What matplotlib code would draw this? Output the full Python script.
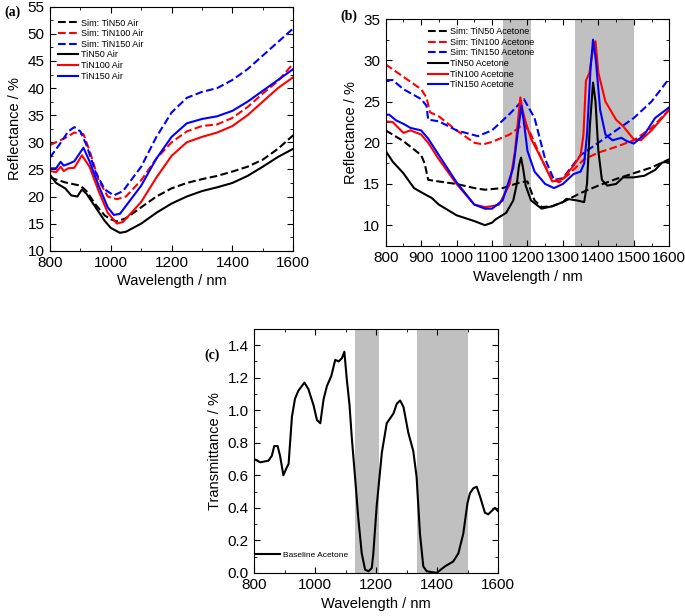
import numpy as np
import matplotlib
matplotlib.use("Agg")
import matplotlib.pyplot as plt
from matplotlib.ticker import MultipleLocator

plt.rcParams['font.family'] = ['Liberation Sans', 'DejaVu Sans']

# ---------------- (a) Air ----------------
a_sim50_x = [800, 850, 900, 920, 950, 980, 1000, 1020, 1050, 1100, 1150, 1200, 1250, 1300, 1350, 1400, 1450, 1500, 1550, 1600]
a_sim50_y = [23.5, 22.6, 22.0, 21.0, 18.5, 16.5, 15.8, 15.4, 16.0, 18.0, 20.0, 21.5, 22.5, 23.2, 23.8, 24.6, 25.5, 26.8, 28.8, 31.3]

a_tin50_x = [800, 820, 850, 870, 890, 905, 920, 950, 980, 1000, 1030, 1050, 1100, 1150, 1200, 1250, 1300, 1350, 1400, 1450, 1500, 1550, 1600]
a_tin50_y = [24.0, 22.5, 21.5, 20.2, 20.0, 21.3, 20.5, 18.0, 15.5, 14.2, 13.3, 13.5, 15.0, 17.0, 18.7, 20.0, 21.0, 21.7, 22.5, 23.8, 25.5, 27.3, 28.8]

a_sim100_x = [800, 850, 880, 910, 930, 960, 990, 1020, 1050, 1100, 1150, 1200, 1250, 1300, 1350, 1400, 1450, 1500, 1550, 1600]
a_sim100_y = [29.5, 30.8, 31.8, 31.5, 28.5, 23.0, 20.0, 19.5, 20.0, 23.0, 27.0, 30.0, 32.0, 33.0, 33.3, 34.5, 36.5, 39.0, 41.3, 44.5]

a_sim150_x = [800, 830, 860, 880, 900, 920, 950, 980, 1010, 1040, 1100, 1150, 1200, 1250, 1300, 1350, 1400, 1450, 1500, 1550, 1600]
a_sim150_y = [27.2, 29.5, 32.0, 32.8, 32.0, 29.5, 24.5, 21.3, 20.2, 21.0, 25.5, 31.0, 35.5, 38.2, 39.3, 40.0, 41.5, 43.5, 46.0, 48.5, 51.0]

a_tin100_x = [800, 820, 835, 845, 860, 880, 905, 930, 960, 990, 1020, 1040, 1100, 1150, 1200, 1250, 1300, 1350, 1400, 1450, 1500, 1550, 1600]
a_tin100_y = [24.7, 24.5, 25.5, 24.7, 25.2, 25.3, 27.6, 25.5, 21.0, 17.0, 15.0, 15.3, 19.0, 23.5, 27.5, 30.0, 31.0, 31.8, 33.0, 35.0, 37.5, 40.0, 42.0]

a_tin150_x = [800, 820, 835, 845, 860, 880, 910, 930, 960, 990, 1010, 1030, 1100, 1150, 1200, 1250, 1300, 1350, 1400, 1450, 1500, 1550, 1600]
a_tin150_y = [25.2, 25.2, 26.4, 25.7, 26.0, 26.5, 29.0, 26.5, 22.0, 18.0, 16.6, 16.8, 22.0, 27.0, 31.0, 33.5, 34.3, 34.8, 35.8, 37.5, 39.5, 41.5, 43.5]

# ---------------- (b) Acetone ----------------
b_sim50_x = [800, 850, 900, 910, 920, 950, 1000, 1050, 1080, 1130, 1180, 1200, 1220, 1240, 1270, 1300, 1350, 1400, 1450, 1500, 1550, 1600]
b_sim50_y = [21.5, 20.2, 18.5, 17.5, 15.5, 15.3, 15.0, 14.5, 14.3, 14.5, 15.2, 15.3, 13.0, 12.2, 12.3, 12.8, 13.9, 14.8, 15.6, 16.3, 17.0, 18.0]

b_tin50_x = [800, 820, 850, 880, 900, 930, 950, 1000, 1050, 1080, 1100, 1110, 1140, 1160, 1170, 1176, 1182, 1188, 1195, 1210, 1240, 1270, 1300, 1310,
             1340, 1360, 1368, 1376, 1385, 1392, 1400, 1410, 1425, 1450, 1470, 1500, 1530, 1560, 1580, 1600]
b_tin50_y = [19.0, 17.7, 16.3, 14.5, 14.0, 13.3, 12.5, 11.2, 10.5, 10.0, 10.3, 10.7, 11.5, 13.0, 15.0, 17.2, 18.2, 16.8, 14.8, 13.0, 12.0, 12.3, 12.8, 13.2,
             13.0, 12.8, 15.0, 22.0, 27.3, 25.0, 19.0, 15.5, 14.8, 15.0, 15.8, 15.8, 16.0, 16.7, 17.6, 17.7]

b_sim100_x = [800, 850, 900, 915, 925, 950, 1000, 1050, 1075, 1100, 1150, 1190, 1210, 1240, 1270, 1290, 1320, 1360, 1400, 1450, 1500, 1550, 1600]
b_sim100_y = [29.5, 28.0, 26.5, 25.5, 23.7, 23.2, 21.5, 20.0, 19.8, 20.1, 21.0, 22.3, 21.0, 18.0, 15.5, 15.2, 16.3, 18.0, 18.8, 19.5, 20.3, 21.8, 24.0]

b_sim150_x = [800, 820, 850, 900, 915, 920, 950, 1000, 1060, 1100, 1150, 1190, 1220, 1250, 1275, 1300, 1350, 1400, 1450, 1500, 1550, 1600]
b_sim150_y = [27.6, 27.6, 26.5, 25.3, 24.5, 22.8, 22.6, 21.5, 20.8, 21.5, 23.5, 25.3, 23.0, 18.0, 15.5, 15.7, 18.5, 20.0, 21.5, 23.0, 25.0, 27.8]

b_tin100_x = [800, 820, 850, 870, 900, 920, 950, 1000, 1050, 1080, 1100, 1120, 1150, 1165, 1174, 1180, 1186, 1195, 1210, 1240, 1270, 1300, 1330,
              1350, 1358, 1365, 1375, 1385, 1392, 1400, 1420, 1450, 1470, 1500, 1520, 1550, 1580, 1600]
b_tin100_y = [22.6, 22.5, 21.2, 21.5, 21.0, 20.0, 18.0, 15.0, 12.5, 12.2, 12.3, 12.5, 15.0, 19.0, 23.0, 25.5, 24.0, 22.5, 20.5, 18.0, 15.3, 15.6, 17.2,
              18.5, 21.0, 27.5, 28.5, 31.5, 32.3, 28.5, 25.0, 22.8, 22.0, 20.4, 20.3, 21.5, 23.0, 24.0]

b_tin150_x = [800, 810, 830, 850, 870, 900, 920, 950, 1000, 1050, 1080, 1100, 1130, 1160, 1172, 1183, 1190, 1200, 1220, 1250, 1275, 1300, 1330,
              1350, 1360, 1368, 1378, 1385, 1393, 1405, 1420, 1440, 1465, 1480, 1500, 1530, 1560, 1600]
b_tin150_y = [23.4, 23.4, 22.7, 22.3, 21.8, 21.5, 20.5, 18.5, 15.2, 12.5, 12.0, 12.0, 13.0, 17.0, 21.0, 24.5, 22.5, 19.0, 16.5, 15.0, 14.5, 15.0, 16.2,
              16.5, 17.5, 21.0, 29.0, 32.5, 30.0, 24.0, 21.0, 20.3, 20.6, 20.2, 19.9, 21.0, 23.0, 24.3]

# ---------------- (c) Transmittance ----------------
c_x = [800, 820, 847, 858, 866, 877, 885, 896, 905, 913, 924, 934, 945, 965, 978, 995, 1006, 1017, 1028, 1039, 1053, 1066, 1077, 1088, 1096,
       1104, 1113, 1120, 1131, 1142, 1153, 1164, 1175, 1186, 1191, 1202, 1219, 1235, 1246, 1257, 1268, 1279, 1290, 1306, 1322, 1333,
       1344, 1355, 1366, 1399, 1426, 1453, 1470, 1486, 1500, 1508, 1519, 1530, 1541, 1557, 1568, 1579, 1590, 1600]
c_y = [0.70, 0.68, 0.69, 0.72, 0.78, 0.78, 0.72, 0.60, 0.64, 0.67, 0.96, 1.07, 1.12, 1.17, 1.13, 1.03, 0.94, 0.92, 1.07, 1.15, 1.21, 1.31, 1.30, 1.32, 1.36,
       1.19, 1.03, 0.84, 0.59, 0.33, 0.12, 0.02, 0.01, 0.03, 0.12, 0.41, 0.74, 0.92, 0.95, 0.98, 1.04, 1.06, 1.02, 0.86, 0.75, 0.59,
       0.24, 0.04, 0.01, 0.00, 0.04, 0.07, 0.12, 0.24, 0.43, 0.49, 0.52, 0.53, 0.47, 0.37, 0.36, 0.38, 0.40, 0.38]

bands = [(1130, 1210), (1335, 1500)]

fig = plt.figure(figsize=(6.85, 6.16), dpi=100)
ax_a = fig.add_axes([0.073, 0.593, 0.355, 0.396])
ax_b = fig.add_axes([0.563, 0.601, 0.414, 0.368])
ax_c = fig.add_axes([0.371, 0.070, 0.356, 0.396])

lw = 1.5


def style(ax, xmaj, xmin, ymaj, ymin):
    ax.xaxis.set_major_locator(MultipleLocator(xmaj))
    ax.xaxis.set_minor_locator(MultipleLocator(xmin))
    ax.yaxis.set_major_locator(MultipleLocator(ymaj))
    ax.yaxis.set_minor_locator(MultipleLocator(ymin))
    ax.tick_params(which='both', direction='in', top=True, right=True, labelsize=11, pad=4)
    ax.tick_params(which='major', length=4)
    ax.tick_params(which='minor', length=2)
    ax.set_xlabel('Wavelength / nm', fontsize=10.5, labelpad=3)


# (a)
ax_a.plot(a_sim50_x, a_sim50_y, 'k--', lw=lw, label='Sim: TiN50 Air')
ax_a.plot(a_sim100_x, a_sim100_y, '--', color='red', lw=lw, label='Sim: TiN100 Air')
ax_a.plot(a_sim150_x, a_sim150_y, '--', color='blue', lw=lw, label='Sim: TiN150 Air')
ax_a.plot(a_tin50_x, a_tin50_y, 'k-', lw=lw, label='TiN50 Air')
ax_a.plot(a_tin100_x, a_tin100_y, '-', color='red', lw=lw, label='TiN100 Air')
ax_a.plot(a_tin150_x, a_tin150_y, '-', color='blue', lw=lw, label='TiN150 Air')
ax_a.set_xlim(800, 1600)
ax_a.set_ylim(10, 55)
style(ax_a, 200, 100, 5, 2.5)
ax_a.set_ylabel('Reflectance / %', fontsize=10.5)
ax_a.legend(loc='upper left', bbox_to_anchor=(0.0, 0.985), frameon=False, fontsize=6.5,
            handlelength=2.2, handletextpad=0.3, labelspacing=0.18)

# (b)
for lo, hi in bands:
    ax_b.axvspan(lo, hi, color='#c0c0c0', lw=0, zorder=0)
ax_b.plot(b_sim50_x, b_sim50_y, 'k--', lw=lw, label='Sim: TiN50 Acetone')
ax_b.plot(b_sim100_x, b_sim100_y, '--', color='red', lw=lw, label='Sim: TiN100 Acetone')
ax_b.plot(b_sim150_x, b_sim150_y, '--', color='blue', lw=lw, label='Sim: TiN150 Acetone')
ax_b.plot(b_tin50_x, b_tin50_y, 'k-', lw=lw, label='TiN50 Acetone')
ax_b.plot(b_tin100_x, b_tin100_y, '-', color='red', lw=lw, label='TiN100 Acetone')
ax_b.plot(b_tin150_x, b_tin150_y, '-', color='blue', lw=lw, label='TiN150 Acetone')
ax_b.set_xlim(800, 1600)
ax_b.set_ylim(7.5, 35)
style(ax_b, 100, 50, 5, 2.5)
ax_b.set_ylabel('Reflectance / %', fontsize=10.5)
ax_b.legend(loc='upper left', bbox_to_anchor=(0.12, 1.0), frameon=False, fontsize=6.5,
            handlelength=2.2, handletextpad=0.3, labelspacing=0.18)

# (c)
for lo, hi in bands:
    ax_c.axvspan(lo, hi, color='#c0c0c0', lw=0, zorder=0)
ax_c.plot(c_x, c_y, 'k-', lw=lw, label='Baseline Acetone')
ax_c.set_xlim(800, 1600)
ax_c.set_ylim(0, 1.5)
style(ax_c, 200, 100, 0.2, 0.1)
ax_c.set_ylabel('Transmittance / %', fontsize=10.5)
ax_c.legend(loc='lower left', bbox_to_anchor=(-0.01, 0.045), frameon=False, fontsize=6,
            handlelength=3.0, handletextpad=0.3, borderaxespad=0.0)

# panel labels
fig.text(0.006, 0.975, '(a)', fontsize=10, fontweight='bold', family='Liberation Serif')
fig.text(0.497, 0.968, '(b)', fontsize=10, fontweight='bold', family='Liberation Serif')
fig.text(0.298, 0.418, '(c)', fontsize=10, fontweight='bold', family='Liberation Serif')

fig.savefig('out.png', dpi=100)
